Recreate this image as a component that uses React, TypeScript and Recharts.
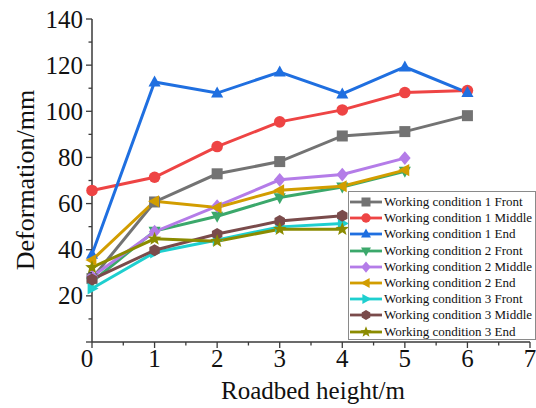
import { Line, LineChart, XAxis, YAxis } from "recharts";

// roadbed heights (m)
const heights = [0, 1, 2, 3, 4, 5, 6];

// deformation (mm)
const front1 = [27.5, 60.7, 72.9, 78.2, 89.3, 91.2, 98.1];
const middle1 = [65.7, 71.4, 84.7, 95.4, 100.6, 108.1, 109];
const end1 = [38, 112.7, 107.9, 117, 107.5, 119.2, 108.1];
const front2 = [26.1, 48.1, 54.5, 62.6, 67.2, 74];
const middle2 = [28.3, 47.8, 58.9, 70.3, 72.6, 79.7];
const end2 = [35.5, 61, 58.3, 65.8, 67.5, 74.5];
const front3 = [23.2, 38.8, 44.2, 49.9, 51.4];
const middle3 = [27.1, 39.8, 46.8, 52.4, 54.7];
const end3 = [32.3, 44.7, 43.7, 48.9, 48.9];

const yTicks = [0, 10, 20, 30, 40, 50, 60, 70, 80, 90, 100, 110, 120, 130, 140];
const xTicks = [0, 0.5, 1, 1.5, 2, 2.5, 3, 3.5, 4, 4.5, 5, 5.5, 6, 6.5, 7];

const series = [
  { key: "front1", name: "Working condition 1 Front", values: front1, color: "#737373", shape: "square" },
  { key: "middle1", name: "Working condition 1 Middle", values: middle1, color: "#ee4444", shape: "circle" },
  { key: "end1", name: "Working condition 1 End", values: end1, color: "#1f6fe0", shape: "up" },
  { key: "front2", name: "Working condition 2 Front", values: front2, color: "#3ba86b", shape: "down" },
  { key: "middle2", name: "Working condition 2 Middle", values: middle2, color: "#b47ce8", shape: "diamond" },
  { key: "end2", name: "Working condition 2 End", values: end2, color: "#d29d00", shape: "left" },
  { key: "front3", name: "Working condition 3 Front", values: front3, color: "#1ecfcf", shape: "right" },
  { key: "middle3", name: "Working condition 3 Middle", values: middle3, color: "#7a4b4b", shape: "hexagon" },
  { key: "end3", name: "Working condition 3 End", values: end3, color: "#8b8b00", shape: "star" },
];

const data = heights.map((h, i) => {
  const row: Record<string, number | null> = { h };
  series.forEach((s) => {
    row[s.key] = s.values[i] ?? null;
  });
  return row;
});

const FONT = "'Liberation Serif', 'Times New Roman', serif";
const AXIS = "#3a3a3a";

function Marker({ shape, cx, cy, size, color }: any) {
  const r = size / 2;
  const pts = (arr: number[][]) => arr.map((p) => `${cx + p[0] * r},${cy + p[1] * r}`).join(" ");
  switch (shape) {
    case "square":
      return <rect x={cx - r} y={cy - r} width={size} height={size} fill={color} />;
    case "circle":
      return <circle cx={cx} cy={cy} r={r * 1.05} fill={color} />;
    case "up":
      return <polygon points={pts([[0, -1.2], [1.1, 0.8], [-1.1, 0.8]])} fill={color} />;
    case "down":
      return <polygon points={pts([[0, 1.2], [1.1, -0.8], [-1.1, -0.8]])} fill={color} />;
    case "diamond":
      return <polygon points={pts([[0, -1.25], [1.05, 0], [0, 1.25], [-1.05, 0]])} fill={color} />;
    case "left":
      return <polygon points={pts([[-1.2, 0], [0.8, -1.1], [0.8, 1.1]])} fill={color} />;
    case "right":
      return <polygon points={pts([[1.2, 0], [-0.8, -1.1], [-0.8, 1.1]])} fill={color} />;
    case "hexagon": {
      const a = [0, 1, 2, 3, 4, 5].map((k) => {
        const t = (Math.PI / 3) * k + Math.PI / 6;
        return [Math.cos(t) * 1.1, Math.sin(t) * 1.1];
      });
      return <polygon points={pts(a)} fill={color} />;
    }
    case "star": {
      const a: number[][] = [];
      for (let k = 0; k < 10; k++) {
        const t = -Math.PI / 2 + (Math.PI / 5) * k;
        const rr = k % 2 === 0 ? 1.3 : 0.55;
        a.push([Math.cos(t) * rr, Math.sin(t) * rr]);
      }
      return <polygon points={pts(a)} fill={color} />;
    }
  }
  return null;
}

const makeDot = (shape: string, color: string) => (p: any) => {
  if (p.value == null || p.cy == null) return <g key={p.key} />;
  return (
    <g key={p.key}>
      <Marker shape={shape} cx={p.cx} cy={p.cy} size={11} color={color} />
    </g>
  );
};

const YTick = ({ x, y, payload }: any) => {
  const v = payload.value;
  const major = v % 20 === 0;
  return (
    <g>
      <line x1={x} x2={x - (major ? 6 : 3.5)} y1={y} y2={y} stroke={AXIS} strokeWidth={1.3} />
      {major && v !== 0 && (
        <text x={x - 9} y={y + 8.5} textAnchor="end" fontSize={25} fontFamily={FONT} fill="#111">
          {v}
        </text>
      )}
    </g>
  );
};

const XTick = ({ x, y, payload }: any) => {
  const v = payload.value;
  const major = Number.isInteger(v);
  return (
    <g>
      <line x1={x} x2={x} y1={y} y2={y + (major ? 6 : 3.5)} stroke={AXIS} strokeWidth={1.3} />
      {major && (
        <text x={x - (v === 0 ? 5 : 0)} y={y + 25} textAnchor="middle" fontSize={25} fontFamily={FONT} fill="#111">
          {v}
        </text>
      )}
    </g>
  );
};

const LegendBox = () => (
  <div
    style={{
      position: "absolute",
      left: 348,
      top: 191,
      width: 188,
      height: 149,
      border: "1px solid #8a8a8a",
      background: "#fff",
      boxSizing: "border-box",
      paddingTop: 2,
      fontFamily: FONT,
      fontSize: 13,
      color: "#111",
    }}
  >
    {series.map((s) => (
      <div key={s.key} style={{ height: 16.2, display: "flex", alignItems: "center", whiteSpace: "nowrap" }}>
        <svg width={35} height={14} style={{ flex: "none" }}>
          <line x1={1} x2={33} y1={7} y2={7} stroke={s.color} strokeWidth={2.8} />
          <Marker shape={s.shape} cx={17} cy={7} size={9} color={s.color} />
        </svg>
        <span>{s.name}</span>
      </div>
    ))}
  </div>
);

export default function App() {
  return (
    <div style={{ position: "absolute", left: 0, top: 0, width: 536, height: 408, background: "#fff" }}>
      <LineChart width={536} height={408} data={data} margin={{ top: 19, right: 6, bottom: 0, left: 0 }}>
        <XAxis
          dataKey="h"
          type="number"
          domain={[0, 7]}
          ticks={xTicks}
          interval={0}
          height={66}
          tickSize={0}
          tickMargin={0}
          tickLine={false}
          axisLine={{ stroke: AXIS, strokeWidth: 1.5 }}
          tick={<XTick />}
          label={{
            content: () => (
              <text x={313} y={399} textAnchor="middle" fontSize={25} fontFamily={FONT} fill="#111">
                Roadbed height/m
              </text>
            ),
          }}
        />
        <YAxis
          type="number"
          domain={[0, 140]}
          ticks={yTicks}
          interval={0}
          width={92}
          tickSize={0}
          tickMargin={0}
          tickLine={false}
          axisLine={{ stroke: AXIS, strokeWidth: 1.5 }}
          tick={<YTick />}
          label={{
            content: () => (
              <text
                x={25}
                y={180}
                transform="rotate(-90, 25, 180)"
                textAnchor="middle"
                dominantBaseline="central"
                fontSize={26}
                fontFamily={FONT}
                fill="#111"
              >
                Deformation/mm
              </text>
            ),
          }}
        />
        {series.map((s) => (
          <Line
            key={s.key}
            dataKey={s.key}
            name={s.name}
            stroke={s.color}
            strokeWidth={3}
            type="linear"
            dot={makeDot(s.shape, s.color)}
            activeDot={false}
            isAnimationActive={false}
          />
        ))}
      </LineChart>
      <LegendBox />
    </div>
  );
}
